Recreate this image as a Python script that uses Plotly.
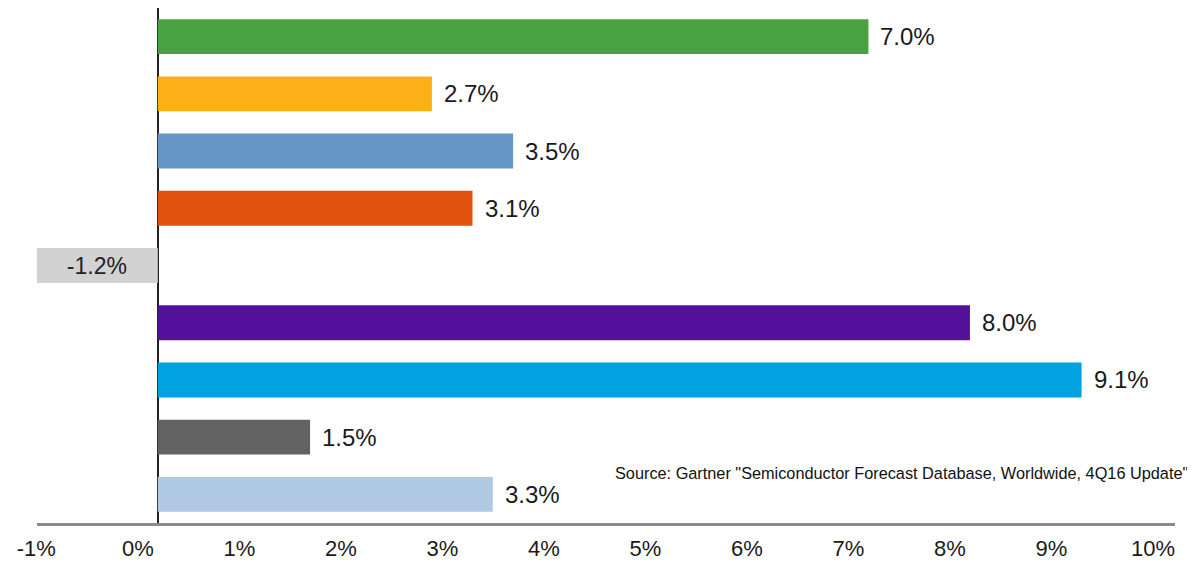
import plotly.graph_objects as go

categories = ["Category 1", "Category 2", "Category 3", "Category 4", "Category 5",
              "Category 6", "Category 7", "Category 8", "Category 9"]
values = [7.0, 2.7, 3.5, 3.1, -1.2, 8.0, 9.1, 1.5, 3.3]
colors = ["#48a23f", "#fbb017", "#6596c6", "#e2520f", "#d2d2d2",
          "#531199", "#00a2e0", "#626262", "#b1cae3"]
tick_vals = list(range(-1, 11))
tick_text = [f"{v}%" for v in tick_vals]
source_text = 'Source: Gartner "Semiconductor Forecast Database, Worldwide, 4Q16 Update"'

FONT = "Liberation Sans, Arial, sans-serif"

fig = go.Figure()
fig.add_trace(go.Bar(
    x=values, y=categories, orientation="h",
    marker=dict(color=colors, line=dict(width=0)),
    width=0.61,
    text=[f"{v:.1f}%" if v < 0 else "" for v in values],
    textposition="inside", insidetextanchor="middle",
    textfont=dict(family=FONT, size=23, color="#222"),
    hoverinfo="skip",
))

for c, v in zip(categories, values):
    if v >= 0:
        fig.add_annotation(x=v, y=c, text=f"{v:.1f}%", showarrow=False,
                           xanchor="left", xshift=10,
                           font=dict(family=FONT, size=24, color="#1a1a1a"))

fig.add_annotation(xref="paper", yref="paper", x=1.0, y=0.098, xshift=15,
                   text=source_text, showarrow=False, xanchor="right", yanchor="middle",
                   font=dict(family=FONT, size=16.3, color="#111"))

fig.update_layout(
    width=1187, height=555,
    margin=dict(l=29, r=20, t=0, b=40, autoexpand=False),
    paper_bgcolor="white", plot_bgcolor="white",
    showlegend=False,
    xaxis=dict(range=[-1.19, 10.02], tickvals=tick_vals, ticktext=tick_text,
               automargin=False,
               showgrid=False, zeroline=True, zerolinecolor="#222", zerolinewidth=2,
               showline=True, linecolor="#8a8a8a", linewidth=3,
               ticks="", ticklabelshift=-20, ticklabelstandoff=4,
               tickfont=dict(family=FONT, size=22, color="#1a1a1a")),
    yaxis=dict(categoryorder="array", categoryarray=categories, autorange="reversed",
               automargin=False,
               range=[8.5, -0.5], showticklabels=False, showgrid=False, zeroline=False,
               showline=False, ticks=""),
)

fig.write_html("out.html")
